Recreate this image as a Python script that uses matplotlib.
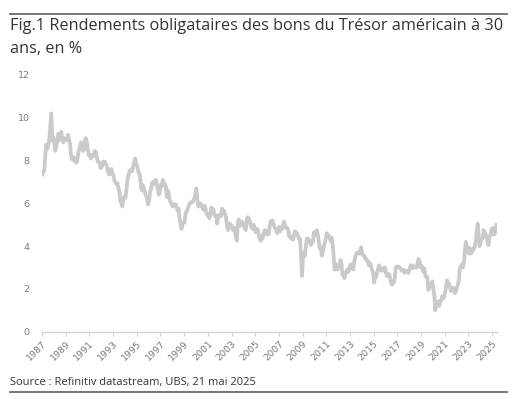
import matplotlib
matplotlib.use("Agg")
import matplotlib.pyplot as plt
import pandas as pd

# Monthly 30-year US Treasury yields (%), Jan 1987 - May 2025
y1987_1996 = [
    7.35, 7.50, 7.55, 8.30, 8.75, 8.55, 8.70, 9.00, 9.60, 10.20, 8.95, 9.10,
    8.80, 8.45, 8.65, 8.95, 9.25, 8.95, 9.15, 9.35, 9.05, 8.85, 9.05, 9.00,
    8.95, 9.05, 9.20, 9.00, 8.80, 8.25, 8.05, 8.15, 8.15, 7.95, 7.90, 7.95,
    8.25, 8.55, 8.60, 8.85, 8.70, 8.45, 8.50, 8.95, 9.05, 8.85, 8.50, 8.25,
    8.25, 8.10, 8.25, 8.20, 8.30, 8.45, 8.40, 8.15, 7.95, 7.95, 7.90, 7.65,
    7.70, 7.85, 7.95, 7.95, 7.85, 7.80, 7.55, 7.40, 7.35, 7.60, 7.60, 7.40,
    7.30, 7.05, 6.95, 6.90, 6.95, 6.70, 6.55, 6.10, 6.00, 5.85, 6.25, 6.30,
    6.25, 6.60, 7.00, 7.30, 7.45, 7.55, 7.50, 7.50, 7.75, 7.95, 8.10, 7.85,
    7.75, 7.50, 7.40, 7.25, 6.75, 6.60, 6.85, 6.65, 6.50, 6.35, 6.25, 5.95,
    6.10, 6.55, 6.65, 6.95, 7.00, 6.90, 7.05, 7.10, 6.90, 6.65, 6.40, 6.60,
]
y1997_2006 = [
    6.85, 6.80, 7.10, 6.95, 6.90, 6.80, 6.30, 6.60, 6.40, 6.15, 6.05, 5.95,
    5.85, 5.95, 5.95, 5.95, 5.80, 5.65, 5.75, 5.30, 5.00, 4.80, 5.10, 5.10,
    5.10, 5.55, 5.60, 5.70, 5.85, 5.95, 6.05, 6.05, 6.05, 6.15, 6.25, 6.45,
    6.70, 6.15, 5.85, 5.95, 6.00, 5.90, 5.80, 5.70, 5.90, 5.80, 5.55, 5.45,
    5.50, 5.30, 5.45, 5.80, 5.75, 5.75, 5.50, 5.40, 5.45, 5.05, 5.30, 5.45,
    5.45, 5.40, 5.75, 5.60, 5.65, 5.50, 5.35, 4.95, 4.75, 5.05, 5.05, 4.90,
    4.95, 4.75, 4.85, 4.85, 4.40, 4.25, 5.10, 5.25, 4.95, 5.15, 5.15, 5.05,
    4.95, 4.85, 4.75, 5.30, 5.35, 5.30, 5.20, 4.95, 4.85, 4.80, 5.00, 4.85,
    4.65, 4.70, 4.80, 4.55, 4.35, 4.25, 4.45, 4.35, 4.60, 4.75, 4.70, 4.55,
    4.70, 4.55, 4.85, 5.15, 5.15, 5.20, 5.05, 4.90, 4.80, 4.75, 4.60, 4.80,
]
y2007_2016 = [
    4.90, 4.70, 4.85, 4.80, 5.00, 5.15, 4.95, 4.85, 4.85, 4.75, 4.45, 4.45,
    4.35, 4.45, 4.30, 4.50, 4.70, 4.55, 4.60, 4.45, 4.35, 4.35, 3.45, 2.60,
    3.60, 3.70, 3.55, 4.05, 4.35, 4.35, 4.30, 4.20, 4.05, 4.25, 4.20, 4.65,
    4.50, 4.60, 4.75, 4.55, 4.20, 3.90, 3.95, 3.55, 3.70, 3.95, 4.15, 4.35,
    4.60, 4.55, 4.50, 4.40, 4.25, 4.40, 4.10, 3.60, 2.90, 3.15, 3.00, 2.90,
    3.15, 3.10, 3.35, 3.15, 2.65, 2.75, 2.50, 2.70, 2.85, 2.90, 2.80, 2.95,
    3.15, 3.10, 3.10, 2.90, 3.30, 3.50, 3.65, 3.70, 3.70, 3.65, 3.80, 3.95,
    3.60, 3.60, 3.55, 3.45, 3.35, 3.35, 3.25, 3.10, 3.20, 3.05, 2.90, 2.75,
    2.30, 2.60, 2.55, 2.75, 2.90, 3.10, 2.90, 2.95, 2.85, 2.90, 3.00, 3.00,
    2.75, 2.60, 2.60, 2.70, 2.60, 2.30, 2.20, 2.25, 2.30, 2.55, 3.00, 3.05,
]
y2017_2025 = [
    3.05, 3.00, 3.00, 2.95, 2.85, 2.85, 2.90, 2.75, 2.85, 2.85, 2.80, 2.75,
    2.95, 3.10, 2.95, 3.10, 3.00, 3.00, 3.00, 3.00, 3.20, 3.40, 3.30, 3.00,
    3.00, 3.05, 2.80, 2.95, 2.60, 2.55, 2.55, 1.95, 2.10, 2.20, 2.20, 2.35,
    2.00, 1.70, 1.00, 1.25, 1.40, 1.40, 1.20, 1.45, 1.45, 1.65, 1.55, 1.65,
    1.85, 2.15, 2.40, 2.25, 2.25, 2.05, 1.90, 1.95, 2.05, 1.95, 1.80, 1.90,
    2.10, 2.20, 2.45, 2.95, 3.05, 3.15, 3.00, 3.25, 3.80, 4.20, 3.80, 3.95,
    3.65, 3.90, 3.65, 3.70, 3.85, 3.85, 4.00, 4.20, 4.70, 5.05, 4.50, 4.00,
    4.20, 4.35, 4.35, 4.75, 4.65, 4.55, 4.40, 4.20, 4.05, 4.45, 4.50, 4.80,
    4.85, 4.55, 4.55, 4.70, 5.00,
]
yields = y1987_1996 + y1997_2006 + y2007_2016 + y2017_2025
tick_years = list(range(1987, 2026, 2))
y_ticks = [0, 2, 4, 6, 8, 10, 12]

title_1 = "Fig.1 Rendements obligataires des bons du Trésor américain à 30"
title_2 = "ans, en %"
source = "Source : Refinitiv datastream, UBS, 21 mai 2025"

dates = pd.date_range("1987-01-01", periods=len(yields), freq="MS") + pd.Timedelta(days=14)

W, H = 527, 399
fig = plt.figure(figsize=(W / 100, H / 100), dpi=100)
fig.patch.set_facecolor("white")

ax = fig.add_axes([42 / W, 1 - 331.7 / H, (497 - 42) / W, (331.7 - 75) / H])
ax.plot(dates, yields, color="#cacaca", lw=2.7, solid_joinstyle="round")

ax.set_ylim(0, 12)
ax.set_yticks(y_ticks)
ax.set_xlim(pd.Timestamp("1987-01-01"), pd.Timestamp("2025-06-01"))
ax.set_xticks([pd.Timestamp(f"{y}-01-01") for y in tick_years])
ax.set_xticklabels([str(y) for y in tick_years], rotation=45, ha="right",
                   rotation_mode="anchor")

for s in ["top", "right", "left"]:
    ax.spines[s].set_visible(False)
ax.spines["bottom"].set_color("#d4d4d4")
ax.spines["bottom"].set_linewidth(1.0)

ax.tick_params(axis="y", length=0, pad=9, labelsize=6.8, labelcolor="#7a7a7a")
ax.tick_params(axis="x", length=3, width=0.8, color="#d4d4d4", pad=2,
               labelsize=6.8, labelcolor="#7a7a7a")

# Title and rules
font = ["Open Sans", "DejaVu Sans"]
fig.text(10 / W, 1 - 26 / H, title_1, fontsize=11.7, color="#333333",
         family=font, va="center", ha="left")
fig.text(10 / W, 1 - 49 / H, title_2, fontsize=11.7, color="#333333",
         family=font, va="center", ha="left")
fig.text(10 / W, 1 - 383 / H, source, fontsize=8.0, color="#333333",
         family=font, va="center", ha="left")

fig.add_artist(plt.Line2D([10 / W, 507 / W], [1 - 14 / H, 1 - 14 / H],
                          color="#6a6a6a", lw=1.3))
fig.add_artist(plt.Line2D([10 / W, 507 / W], [1 - 392 / H, 1 - 392 / H],
                          color="#6a6a6a", lw=1.3))

fig.savefig("out.png", dpi=100, facecolor="white")
